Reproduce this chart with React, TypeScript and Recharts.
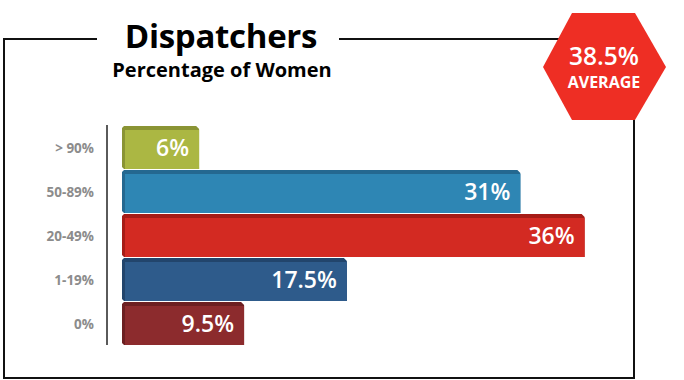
import React from 'react';
import { BarChart, Bar, XAxis, YAxis, Cell, LabelList } from 'recharts';

const categories = ['> 90%', '50-89%', '20-49%', '1-19%', '0%'];
const shares = [6, 31, 36, 17.5, 9.5];
const faceColors = ['#abb743', '#2e86b4', '#d32a22', '#2e5b8b', '#8c2b2d'];
const edgeColors = ['#8a9434', '#246890', '#a61c16', '#22456c', '#6c1f21'];
const averageShare = 38.5;

const data = categories.map((band, i) => ({ band, share: shares[i] }));

// bar with a darker top/left edge, like the extruded bars of the original
const BevelBar = (props: any) => {
  const { x, y, width, height, fill, index } = props;
  if (!width || width <= 0) return null;
  const dark = edgeColors[index];
  const edge = `M${x + 2},${y} L${x + width - 3},${y} L${x + width},${y + 3} L${x + width},${y + height} L${x + 2},${y + height} L${x},${y + height - 2} L${x},${y + 2} Z`;
  return (
    <g>
      <path d={edge} fill={dark} />
      <rect x={x + 3} y={y + 4} width={width - 3} height={height - 4} fill={fill} />
    </g>
  );
};

const BandTick = (props: any) => {
  const { x, y, payload } = props;
  return (
    <g>
      <line x1={x - 15} x2={x - 15} y1={y - 22} y2={y + 22} stroke="#5a5a5a" strokeWidth={1.2} shapeRendering="crispEdges" />
      <text x={x - 28} y={y + 1} textAnchor="end" dominantBaseline="central" fill="#8c8c8c"
        style={{ fontFamily: 'Open Sans', fontWeight: 700, fontSize: 13.5 }}>
        {payload.value}
      </text>
    </g>
  );
};

export default function App() {
  return (
    <div style={{ position: 'absolute', left: 0, top: 0, width: 684, height: 380, background: '#fff' }}>
      <svg width={684} height={380} style={{ position: 'absolute', left: 0, top: 0 }}>
        <g stroke="#111" strokeWidth={2} fill="none">
          <polyline points="97,39 4,39 4,378 634,378 634,118" />
          <line x1={339} y1={39} x2={560} y2={39} />
        </g>
        <text x={221} y={48} textAnchor="middle" fill="#000"
          style={{ fontFamily: 'Open Sans', fontWeight: 700, fontSize: 33, letterSpacing: -0.3 }}>Dispatchers</text>
        <text x={222} y={77} textAnchor="middle" fill="#000"
          style={{ fontFamily: 'Open Sans', fontWeight: 700, fontSize: 20 }}>Percentage of Women</text>
        <polygon points="572,13 635,13 666,67 635,120 572,120 543,67" fill="#ee2e24" />
        <text x={604} y={65} textAnchor="middle" fill="#fff"
          style={{ fontFamily: 'Open Sans', fontWeight: 600, fontSize: 24.5 }}>{averageShare}%</text>
        <text x={604} y={88} textAnchor="middle" fill="#fff"
          style={{ fontFamily: 'Open Sans', fontWeight: 700, fontSize: 16 }}>AVERAGE</text>
      </svg>
      <div style={{ position: 'absolute', left: 0, top: 0 }}>
        <BarChart width={684} height={380} data={data} layout="vertical"
          margin={{ top: 125, right: 48, bottom: 35, left: 0 }} barSize={43}>
          <XAxis type="number" domain={[0, 40]} hide />
          <YAxis type="category" dataKey="band" width={122} axisLine={false} tickLine={false}
            tickSize={0} tickMargin={0} tick={<BandTick />} interval={0} />
          <Bar dataKey="share" isAnimationActive={false} shape={<BevelBar />}>
            {data.map((d, i) => (
              <Cell key={d.band} fill={faceColors[i]} />
            ))}
            <LabelList dataKey="share" position="insideRight" offset={10} fill="#fff"
              formatter={(v: any) => `${v}%`}
              style={{ fontFamily: 'Open Sans', fontWeight: 600, fontSize: 23 }} />
          </Bar>
        </BarChart>
      </div>
    </div>
  );
}
